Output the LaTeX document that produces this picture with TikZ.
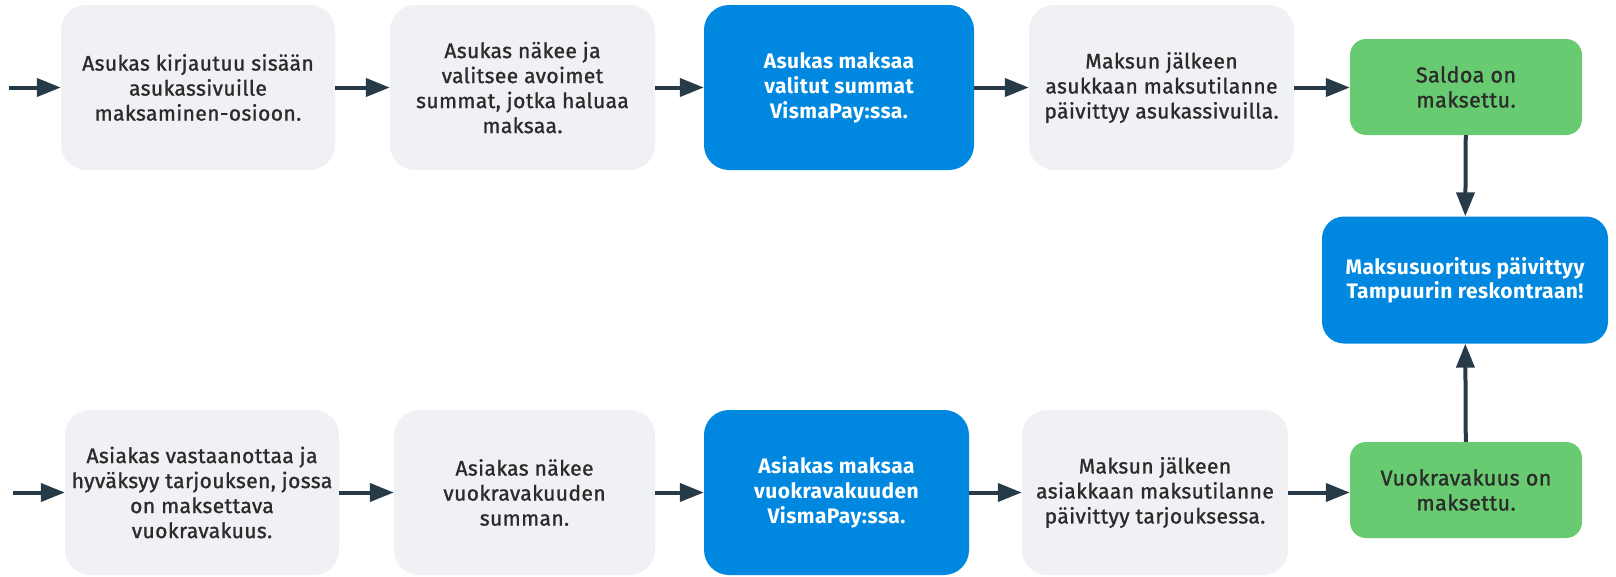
\documentclass[tikz,border=0pt]{standalone}
\usepackage{fontspec}
\setmainfont{Fira Sans}
\newfontfamily\medfont[FakeBold=1.2,LetterSpace=2]{Fira Sans}
\newfontfamily\boldfont[LetterSpace=2]{Fira Sans Bold}
\usetikzlibrary{arrows.meta}
\definecolor{boxgray}{HTML}{F0F1F5}
\definecolor{boxblue}{HTML}{0088E0}
\definecolor{boxgreen}{HTML}{69CB71}
\definecolor{arrowcol}{HTML}{263A48}
\definecolor{txtcol}{HTML}{2B2B2B}
\tikzset{
  base/.style={rectangle, align=center, inner sep=0pt, font=\medfont\fontsize{21}{25}\selectfont},
  graybox/.style={base, fill=boxgray, text=txtcol, rounded corners=25pt, minimum height=165pt},
  bluebox/.style={base, fill=boxblue, text=white, rounded corners=25pt, minimum height=165pt, font=\boldfont\fontsize{21}{25}\selectfont},
  greenbox/.style={base, fill=boxgreen, text=txtcol, rounded corners=16pt, minimum width=232pt, minimum height=96pt, font=\medfont\fontsize{21.5}{25}\selectfont},
  flow/.style={draw=arrowcol, line width=4pt, -{Triangle[length=24pt,width=18pt]}}
}
\begin{document}
\begin{tikzpicture}[x=1pt,y=-1pt]
\useasboundingbox (0,0) rectangle (1616,576);
% top row
\node[graybox, minimum width=274pt] (t1) at (198,87.5) {Asukas kirjautuu sisään\\asukassivuille\\maksaminen-osioon.};
\node[graybox, minimum width=265pt] (t2) at (522.5,87.5) {Asukas näkee ja\\valitsee avoimet\\summat, jotka haluaa\\maksaa.};
\node[bluebox, minimum width=270pt] (t3) at (839,87.5) {Asukas maksaa\\valitut summat\\VismaPay:ssa.};
\node[graybox, minimum width=265pt] (t4) at (1161.5,87.5) {Maksun jälkeen\\asukkaan maksutilanne\\päivittyy asukassivuilla.};
\node[greenbox] (t5) at (1466,87) {Saldoa on\\maksettu.};
% right blue
\node[bluebox, minimum width=286pt, minimum height=127pt, rounded corners=22pt, font=\boldfont\fontsize{21}{24}\selectfont] (r) at (1465,280) {Maksusuoritus päivittyy\\Tampuurin reskontraan!};
% bottom row
\node[graybox, minimum width=274pt] (b1) at (202,492.5) {Asiakas vastaanottaa ja\\hyväksyy tarjouksen, jossa\\on maksettava\\vuokravakuus.};
\node[graybox, minimum width=261pt] (b2) at (524.5,492.5) {Asiakas näkee\\vuokravakuuden\\summan.};
\node[bluebox, minimum width=265pt] (b3) at (836.5,492.5) {Asiakas maksaa\\vuokravakuuden\\VismaPay:ssa.};
\node[graybox, minimum width=266pt] (b4) at (1155,492.5) {Maksun jälkeen\\asiakkaan maksutilanne\\päivittyy tarjouksessa.};
\node[greenbox] (b5) at (1466,490) {Vuokravakuus on\\maksettu.};
% start points
\coordinate (s1) at (9,87.5);
\coordinate (s2) at (13,492.5);
% connectors
\draw[flow] (s1) -- (t1.west);
\draw[flow] (t1) -- (t2);
\draw[flow] (t2) -- (t3);
\draw[flow] (t3) -- (t4);
\draw[flow] (t4.east) -- (t5.west |- t4.east);
\draw[flow] (t5) -- (r);
\draw[flow] (s2) -- (b1.west);
\draw[flow] (b1) -- (b2);
\draw[flow] (b2) -- (b3);
\draw[flow] (b3) -- (b4);
\draw[flow] (b4.east) -- (b5.west |- b4.east);
\draw[flow] (b5) -- (r);
\end{tikzpicture}
\end{document}
